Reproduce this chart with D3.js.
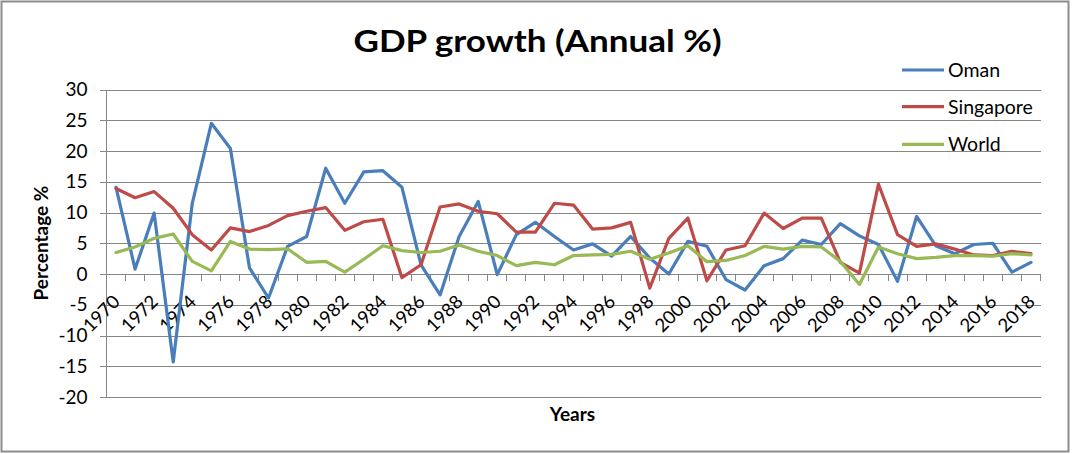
<!DOCTYPE html>
<html><head><meta charset="utf-8">
<script src="https://cdn.jsdelivr.net/npm/d3@7"></script>
<style>html,body{margin:0;padding:0;background:#fff;}svg{display:block;font-family:Lato,"Open Sans",sans-serif;}</style>
</head><body><svg id="c" width="1072" height="454"></svg>
<script>
const years = d3.range(1970, 2019);
const oman = [14.1,0.8,9.9,-14.3,11.5,24.5,20.4,1.0,-3.9,4.5,
  6.1,17.2,11.5,16.6,16.8,14.1,1.5,-3.4,6.1,11.8,
  -0.1,6.4,8.4,6.1,3.9,4.9,2.9,6.1,2.6,0.0,
  5.3,4.5,-0.9,-2.6,1.35,2.5,5.5,4.8,8.2,6.2,
  4.8,-1.2,9.35,4.6,3.3,4.8,5.0,0.3,1.9];
const singapore = [13.9,12.4,13.4,10.7,6.4,3.9,7.5,6.9,7.9,9.5,
  10.2,10.8,7.1,8.5,8.9,-0.6,1.5,10.9,11.4,10.2,
  9.8,6.8,6.8,11.5,11.2,7.3,7.5,8.4,-2.3,5.8,
  9.1,-1.1,3.9,4.6,9.9,7.4,9.1,9.1,1.9,0.15,
  14.6,6.4,4.5,4.9,4.05,3.1,3.0,3.7,3.3];
const world = [3.5,4.4,5.8,6.5,2.05,0.5,5.3,4.05,3.95,4.1,
  1.9,2.05,0.3,2.4,4.6,3.8,3.5,3.7,4.7,3.7,
  3.0,1.35,1.9,1.5,3.0,3.1,3.2,3.7,2.4,3.4,
  4.6,2.0,2.2,3.0,4.5,4.05,4.5,4.4,2.05,-1.7,
  4.4,3.3,2.5,2.7,3.0,3.0,2.9,3.3,3.1];
const yTicks = [-20,-15,-10,-5,0,5,10,15,20,25,30];
const seriesNames = ["Oman","Singapore","World"];
const seriesColors = ["#4A7EBB","#BE4B48","#98B954"];
const title = "GDP growth (Annual %)";
const xTitle = "Years";
const yTitle = "Percentage %";

(function () {
const svg = d3.select("#c");
const pL = 106.5, pR = 1040.5, pT = 89.5, pB = 397;
const x = d3.scaleBand().domain(years).range([pL, pR]).padding(0);
const y = d3.scaleLinear().domain([-20, 30]).range([pB, pT]);
const cx = d => x(d) + x.bandwidth() / 2;
const grid = "#868686";

svg.append("rect").attr("x", 1.5).attr("y", 1.5).attr("width", 1067).attr("height", 450)
  .attr("fill", "#fff").attr("stroke", "#8c8c8c").attr("stroke-width", 2);

const yAxis = d3.axisLeft(y).tickValues(yTicks).tickFormat(d => String(d))
  .tickSize(-(pR - pL)).tickSizeOuter(0).tickPadding(19);
const ya = svg.append("g").attr("transform", `translate(${pL},0)`).call(yAxis);
ya.select(".domain").remove();
ya.selectAll(".tick line").attr("stroke", grid).attr("x1", -7).attr("shape-rendering", "crispEdges");
ya.selectAll(".tick text").attr("font-size", 19).attr("fill", "#000").attr("font-family", "Lato");
svg.append("line").attr("x1", pL).attr("x2", pL).attr("y1", pT).attr("y2", pB)
  .attr("stroke", grid).attr("shape-rendering", "crispEdges");

const xAxis = d3.axisBottom(x).tickValues([]).tickSizeOuter(0);
const xa = svg.append("g").attr("transform", `translate(0,${y(0)})`).call(xAxis);
xa.select(".domain").attr("stroke", grid).attr("shape-rendering", "crispEdges");
const edges = years.map(d => x(d) + x.bandwidth());
xa.selectAll("line.cat").data(edges).join("line").attr("class", "cat")
  .attr("x1", d => d).attr("x2", d => d).attr("y1", 0).attr("y2", 7)
  .attr("stroke", grid).attr("shape-rendering", "crispEdges");
svg.append("g").selectAll("text").data(years.filter((d, i) => i % 2 === 0)).join("text")
  .attr("transform", d => `translate(${cx(d) + 5},${y(0) + 29}) rotate(-45)`)
  .attr("text-anchor", "end").attr("font-size", 18.5).attr("fill", "#000").text(d => d);

const data = [oman, singapore, world];
const line = d3.line().x((d, i) => cx(years[i])).y(d => y(d));
data.forEach((s, k) => {
  svg.append("path").datum(s).attr("d", line).attr("fill", "none")
    .attr("stroke", seriesColors[k]).attr("stroke-width", 3.2)
    .attr("stroke-linejoin", "round").attr("stroke-linecap", "round");
});

svg.append("text").attr("x", 537.5).attr("y", 52).attr("text-anchor", "middle")
  .attr("font-size", 31).attr("font-weight", "bold").attr("fill", "#000")
  .attr("textLength", 368).attr("lengthAdjust", "spacingAndGlyphs").text(title);

svg.append("text").attr("x", 572.5).attr("y", 421).attr("text-anchor", "middle")
  .attr("font-size", 19).attr("font-weight", "bold").attr("fill", "#000").text(xTitle);
svg.append("text").attr("transform", "translate(48,243) rotate(-90)").attr("text-anchor", "middle")
  .attr("font-size", 19).attr("font-weight", "bold").attr("fill", "#000").text(yTitle);

const legY = [70, 106.7, 144.3];
seriesNames.forEach((n, k) => {
  svg.append("line").attr("x1", 902).attr("x2", 944).attr("y1", legY[k]).attr("y2", legY[k])
    .attr("stroke", seriesColors[k]).attr("stroke-width", 3.2);
  svg.append("text").attr("x", 948).attr("y", legY[k]).attr("dy", "0.35em")
    .attr("font-size", 19.5).attr("fill", "#000").text(n);
});
})();
</script></body></html>
